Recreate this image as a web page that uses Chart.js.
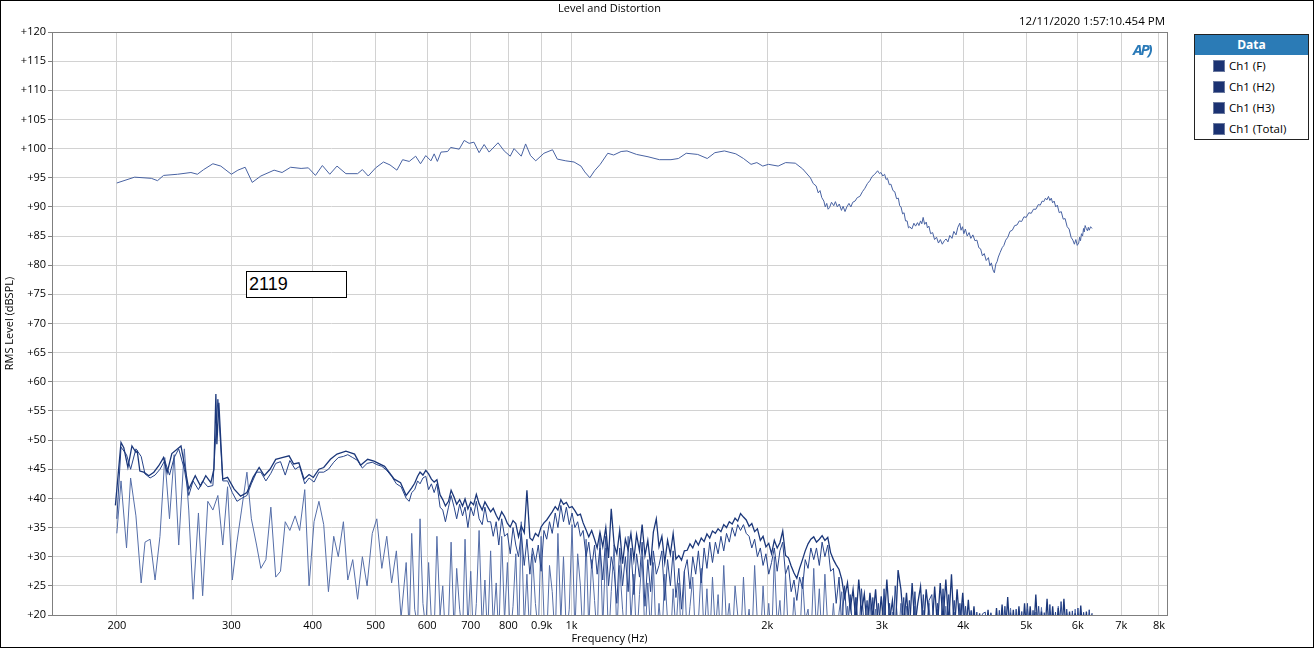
<!DOCTYPE html>
<html>
<head>
<meta charset="utf-8">
<script src="https://cdn.jsdelivr.net/npm/chart.js@4.4.1/dist/chart.umd.min.js"></script>
<style>
  body { margin: 0; background: #fff; font-family: "Open Sans", "Noto Sans", sans-serif; }
  #wrap { position: relative; width: 1314px; height: 648px; }
  #frame { position: absolute; left: 0; top: 0; width: 1312px; height: 646px; border: 1px solid #000; pointer-events: none; }
  #title { position: absolute; left: 0; width: 1219px; top: 0; text-align: center; font-size: 11px; }
  #stamp { position: absolute; right: 149px; top: 13px; font-size: 11.5px; }
  #logo { position: absolute; left: 1133px; top: 39px; font: italic bold 15px "Open Sans", sans-serif; color: #2a7ab8; letter-spacing: -2px; }
  #note { position: absolute; left: 246px; top: 271px; width: 97px; height: 25px; border: 1px solid #000; background: #fff;
          font: 18px "Liberation Sans", Arial, sans-serif; line-height: 25px; padding-left: 2px; }
  #legend { position: absolute; left: 1194px; top: 34px; width: 113px; border: 1px solid #222; background: #fff; }
  #legend .head { background: #2b7bb6; color: #fff; font-weight: bold; font-size: 12px; text-align: center; height: 20px; line-height: 20px; }
  #legend .row { height: 21px; line-height: 21px; font-size: 11.5px; padding-left: 18px; }
  #legend .sw { display: inline-block; width: 12px; height: 12px; background: #1b3272; vertical-align: -2px; margin-right: 4px; border: 1px solid #6b7aa0; box-sizing: border-box; }
  canvas { position: absolute; left: 0; top: 0; }
</style>
</head>
<body>
<div id="wrap">
  <canvas id="apChart" width="1314" height="648"></canvas>
  <div id="title">Level and Distortion</div>
  <div id="stamp">12/11/2020 1:57:10.454 PM</div>
  <div id="logo">AP)</div>
  <div id="note">2119</div>
  <div id="legend">
    <div class="head">Data</div>
    <div class="row"><span class="sw"></span>Ch1 (F)</div>
    <div class="row"><span class="sw"></span>Ch1 (H2)</div>
    <div class="row"><span class="sw"></span>Ch1 (H3)</div>
    <div class="row"><span class="sw"></span>Ch1 (Total)</div>
  </div>
  <div id="frame"></div>
</div>
<script>
// axis ticks
const xTickValues = [200, 300, 400, 500, 600, 700, 800, 900, 1000, 2000, 3000, 4000, 5000, 6000, 7000, 8000];
const xTickLabels = ["200", "300", "400", "500", "600", "700", "800", "0.9k", "1k", "2k", "3k", "4k", "5k", "6k", "7k", "8k"];
const yTickValues = [20, 25, 30, 35, 40, 45, 50, 55, 60, 65, 70, 75, 80, 85, 90, 95, 100, 105, 110, 115, 120];

// Ch1 (F) fundamental, dBSPL
const fFreqs = [
  200, 213, 226, 231, 236, 248, 260, 266, 272, 281, 289, 300, 307, 315, 323, 333, 349, 359, 370, 384,
  394, 404, 414, 425, 436, 450, 469, 477, 487, 500, 514, 526, 539, 550, 563, 576, 586, 597, 608, 615,
  622, 630, 645, 652, 672, 684, 696, 708, 721, 734, 747, 771, 788, 805, 816, 837, 850, 865, 881, 907,
  935, 951, 980, 1009, 1034, 1048, 1067, 1085, 1107, 1137, 1161, 1192, 1217, 1259, 1311, 1365, 1422, 1460, 1501, 1563,
  1617, 1661, 1718, 1789, 1838, 1888, 1927, 1968, 2008, 2078, 2134, 2208, 2267,
  2329, 2353, 2377, 2395, 2410, 2425, 2443, 2455, 2468, 2480,
  2493, 2510, 2530, 2545, 2562, 2580, 2600, 2615, 2633, 2650,
  2670, 2688, 2706, 2728, 2750, 2775, 2800, 2825, 2850, 2875,
  2897, 2925, 2955, 2975, 2990, 3010, 3029, 3045, 3060, 3080,
  3097, 3120, 3140, 3160, 3180, 3195, 3210, 3228, 3245, 3262,
  3280, 3296, 3312, 3335, 3360, 3380, 3403, 3420, 3440, 3455,
  3472, 3490, 3510, 3525, 3543, 3565, 3590, 3615, 3640, 3665,
  3690, 3715, 3742, 3765, 3790, 3815, 3845, 3870, 3900, 3925,
  3953, 3970, 3990, 4010, 4031, 4058, 4085, 4110, 4140, 4170,
  4200, 4228, 4255, 4282, 4310, 4340, 4374, 4397, 4420, 4445,
  4467, 4490, 4510, 4530, 4560, 4592, 4620, 4650, 4685, 4721,
  4760, 4800, 4840, 4879, 4920, 4960, 5000, 5046, 5090, 5130,
  5175, 5218, 5255, 5290, 5320, 5353, 5380, 5410, 5437, 5464,
  5490, 5520, 5550, 5582, 5620, 5660, 5700, 5738, 5780, 5820,
  5860, 5898, 5930, 5960, 5990, 6021, 6040, 6060, 6080, 6104,
  6125, 6140, 6160, 6184, 6210, 6230, 6250, 6280, 6312
];
const fLevels = [
  94.1, 95.1, 94.9, 94.5, 95.4, 95.6, 95.9, 95.6, 96.4, 97.4, 97.0, 95.6, 96.3, 96.8, 94.2, 95.3, 96.3, 95.9, 96.8, 96.6,
  96.7, 95.4, 97.1, 95.6, 97.0, 95.7, 95.7, 96.4, 95.3, 96.7, 97.7, 97.2, 96.3, 98.1, 97.8, 98.7, 97.4, 98.8, 97.9, 99.1,
  97.8, 99.4, 99.5, 100.2, 99.9, 101.4, 100.9, 101.1, 99.3, 100.7, 99.4, 101.0, 99.6, 98.7, 100.0, 98.7, 100.8, 98.8, 97.9, 99.2,
  99.8, 98.2, 97.9, 97.7, 97.0, 96.0, 95.0, 96.2, 97.3, 99.2, 98.9, 99.5, 99.6, 99.0, 98.6, 98.1, 98.1, 98.3, 99.2, 99.0,
  98.3, 99.3, 99.6, 99.1, 98.3, 97.3, 97.6, 97.0, 97.3, 97.0, 97.6, 97.5, 96.5,
  95.0, 94.0, 93.6, 92.4, 92.8, 91.6, 91.0, 90.0, 90.6, 89.6,
  89.9, 90.8, 90.2, 90.9, 90.0, 90.5, 89.4, 90.1, 89.2, 90.0,
  90.6, 90.0, 90.8, 91.0, 91.6, 91.8, 92.6, 93.2, 94.0, 94.5,
  95.2, 95.6, 96.2, 95.7, 95.9, 95.3, 95.6, 94.7, 94.9, 93.8,
  93.9, 92.8, 92.6, 91.4, 91.5, 90.2, 90.0, 88.8, 89.0, 87.6,
  87.6, 86.4, 86.6, 86.2, 87.2, 86.7, 87.3, 86.8, 87.6, 87.1,
  88.2, 87.0, 87.4, 86.4, 86.7, 85.4, 85.6, 84.4, 84.8, 83.8,
  84.4, 83.6, 84.2, 84.5, 84.0, 85.1, 84.6, 85.8, 85.2, 86.5,
  87.2, 86.0, 86.6, 85.4, 86.2, 85.0, 85.6, 84.6, 85.2, 84.2,
  84.3, 83.0, 82.8, 81.6, 82.0, 80.8, 81.3, 79.9, 80.4, 79.2,
  78.7, 80.2, 80.6, 81.4, 82.2, 83.0, 83.4, 84.3, 84.8, 85.8,
  86.0, 86.8, 86.9, 87.6, 87.5, 88.3, 88.2, 89.0, 88.9, 89.6,
  89.6, 90.4, 90.3, 91.0, 90.9, 91.5, 91.2, 91.8, 91.1, 91.5,
  90.7, 91.0, 90.0, 90.3, 89.0, 89.2, 87.9, 88.0, 86.6, 86.2,
  84.8, 84.3, 83.6, 84.4, 83.4, 83.8, 84.8, 84.2, 85.4, 85.0,
  86.3, 85.7, 86.8, 86.3, 85.9, 86.5, 86.0, 86.6, 86.3
];

// distortion products: low band (own grids), mid and high bands (shared grids)
const totalLowFreqs = [
  199, 203, 205, 208, 211, 214, 215, 217, 220, 224, 228, 232, 236, 239, 243, 251, 254, 258, 264, 269,
  274, 279, 282, 284, 285, 287, 291, 296, 303, 310, 317, 324, 331, 337, 344, 351, 359, 368, 374, 381,
  388, 395, 401, 409, 416, 426, 436, 450, 464, 474, 486, 497, 516, 534, 546
];
const totalLow = [
  38.8, 49.6, 48.7, 45.3, 49.0, 47.9, 48.1, 44.7, 44.5, 43.9, 44.5, 45.6, 47.0, 44.4, 47.7, 49.0, 45.9, 41.6, 43.9, 42.1,
  43.9, 42.7, 45.0, 57.9, 49.3, 56.4, 43.3, 43.6, 41.6, 40.4, 41.0, 43.6, 45.3, 43.9, 45.0, 46.7, 47.0, 47.3, 45.9, 46.1,
  43.3, 44.1, 43.6, 45.0, 45.3, 46.7, 47.6, 48.1, 47.6, 45.7, 46.7, 46.4, 45.5, 43.3, 42.7
];
const harmLowFreqs = [
  200, 203, 207, 210, 214, 218, 221, 225, 229, 233,
  237, 241, 245, 249, 254, 258, 262, 267, 271, 276,
  281, 286, 291, 296, 301, 306, 311, 317, 322, 328,
  333, 339, 345, 351, 357, 363, 369, 376, 382, 389,
  395, 402, 409, 416, 423, 431, 438, 446, 453, 461,
  469, 477, 485, 494, 502, 511, 520, 529, 538, 547
];
const h2Low = [
  36.5, 48.8, 47.5, 45.0, 48.5, 47.2, 44.2, 43.5, 44.0, 45.0,
  46.5, 44.0, 47.0, 48.5, 45.0, 40.5, 43.0, 41.5, 43.0, 42.0,
  42.2, 57.0, 43.0, 43.0, 41.0, 39.5, 40.0, 40.5, 42.5, 44.5,
  44.5, 43.0, 44.3, 46.0, 46.3, 44.0, 46.5, 45.0, 45.5, 42.5,
  43.5, 42.8, 44.5, 44.5, 45.0, 46.2, 47.0, 47.2, 47.5, 47.0,
  46.5, 45.2, 46.0, 46.2, 45.8, 45.5, 44.8, 43.8, 42.5, 42.0
];
const h3Low = [
  34.0, 43.0, 31.5, 43.5, 37.0, 25.5, 32.5, 33.0, 26.0, 33.5,
  47.0, 36.5, 47.5, 32.0, 48.5, 38.0, 22.7, 37.5, 23.3, 39.5,
  38.0, 40.5, 32.0, 42.0, 26.0, 32.5, 38.0, 44.5, 36.5, 32.0,
  28.0, 29.5, 38.5, 26.5, 27.5, 36.0, 34.5, 37.0, 34.5, 41.5,
  25.0, 36.0, 39.5, 35.5, 24.0, 33.5, 30.0, 36.0, 26.0, 29.5,
  22.7, 30.0, 25.0, 34.0, 36.5, 28.0, 33.5, 25.5, 31.0, 19.5
];

const midFreqs = [
  557, 563, 568, 574, 580, 585, 591, 597, 603, 609,
  615, 621, 628, 634, 640, 647, 653, 660, 666, 673,
  680, 686, 693, 700, 707, 714, 721, 729, 736, 743,
  751, 758, 766, 773, 781, 789, 797, 805, 813, 821,
  829, 837, 846, 854, 863, 871, 880, 889, 898, 907,
  916, 925, 934, 944, 953, 963, 972, 982, 992, 1002,
  1012, 1022, 1032, 1042, 1053, 1063, 1074, 1085, 1095, 1106,
  1117, 1129, 1140, 1151, 1163, 1174, 1186, 1198, 1210, 1222,
  1234, 1247, 1259, 1272, 1284, 1297, 1310, 1323, 1336, 1350,
  1363, 1377, 1391, 1405, 1419, 1433, 1447, 1462, 1476, 1491,
  1506, 1521, 1536, 1552, 1567, 1583, 1599, 1615, 1631, 1647,
  1664, 1680, 1697, 1714, 1731, 1748, 1766, 1784, 1801, 1819,
  1838, 1856, 1875, 1893, 1912, 1931, 1951, 1970, 1990, 2010,
  2030, 2050, 2071, 2091, 2112, 2133, 2155, 2176, 2198, 2220,
  2242, 2265, 2287, 2310, 2333, 2357, 2380, 2404, 2428, 2452,
  2477, 2502, 2527, 2552, 2578, 2603, 2629, 2656, 2682, 2709,
  2736, 2764, 2791, 2819, 2847, 2876, 2905, 2934, 2963, 2993,
  3023, 3053, 3083, 3114, 3145, 3177, 3209, 3241, 3273, 3306,
  3339, 3372, 3406, 3440, 3474, 3509, 3544, 3580, 3616, 3652,
  3688, 3725, 3762, 3800, 3838, 3876, 3915, 3954, 3994, 4034,
  4074, 4115, 4156, 4198, 4240, 4282
];
const totalMid = [
  40.5, 41.2, 41.8, 42.6, 43.8, 44.5, 44.0, 44.8, 44.2, 43.3,
  42.8, 43.2, 40.6, 39.8, 38.7, 39.5, 41.4, 40.2, 39.0, 39.8,
  38.7, 39.9, 38.2, 39.4, 38.9, 40.7, 39.1, 38.0, 39.4, 38.6,
  37.7, 38.3, 37.1, 36.3, 37.7, 36.9, 35.7, 35.1, 36.2, 35.7,
  33.4, 35.3, 34.1, 41.4, 33.2, 32.8, 34.0, 33.5, 35.1, 35.8,
  36.3, 37.0, 37.7, 38.6, 38.0, 39.8, 39.0, 39.3, 38.4, 38.6,
  37.9, 37.1, 37.3, 35.8, 34.6, 33.4, 34.5, 33.0, 31.5, 34.2,
  31.7, 35.0, 29.8, 38.2, 32.0, 30.5, 34.5, 28.8, 33.0, 31.2,
  34.0, 29.5, 33.8, 31.0, 35.5, 30.2, 32.8, 28.5, 34.2, 36.5,
  31.7, 33.5, 29.0, 32.8, 30.4, 34.0, 29.6, 30.2, 29.4, 31.0,
  31.1, 32.2, 31.5, 32.8, 32.0, 33.2, 32.6, 33.9, 33.2, 34.4,
  34.0, 34.8, 34.3, 35.5, 35.0, 36.0, 35.6, 36.6, 36.1, 37.4,
  36.8, 36.3, 35.2, 35.7, 34.3, 34.8, 32.8, 33.5, 31.7, 32.3,
  30.5, 32.8, 31.5, 32.4, 34.4, 30.2, 29.8, 28.4, 27.2, 26.3,
  28.0, 29.5, 31.0, 32.2, 33.0, 33.4, 32.5, 33.0, 33.6, 32.8,
  33.3, 30.7, 29.5, 28.6, 27.8, 26.1, 23.0, 25.5, 21.0, 24.4,
  19.0, 26.1, 20.5, 23.6, 18.0, 23.8, 19.5, 24.4, 17.5, 23.2,
  18.0, 26.1, 19.0, 22.5, 17.0, 27.7, 24.4, 18.5, 23.8, 17.0,
  25.5, 18.0, 22.0, 24.9, 17.0, 24.4, 20.0, 16.5, 24.9, 18.0,
  25.5, 19.0, 26.1, 18.5, 27.0, 17.0, 24.4, 18.0, 23.8, 16.5,
  22.6, 16.0, 21.5, 15.0, 20.3, 15.0
];
const h2Mid = [
  40.0, 39.5, 41.0, 41.5, 43.0, 42.5, 43.5, 43.8, 41.5, 42.5,
  41.0, 42.5, 38.5, 38.0, 36.0, 38.5, 40.5, 38.5, 36.5, 39.0,
  37.0, 38.5, 35.0, 38.5, 37.0, 39.5, 36.5, 35.5, 38.5, 36.0,
  36.0, 33.5, 36.0, 32.0, 36.5, 33.5, 34.0, 30.5, 35.0, 32.0,
  30.0, 34.0, 28.5, 33.0, 27.0, 31.5, 29.0, 32.0, 27.5, 34.5,
  33.0, 36.0, 34.0, 37.5, 35.0, 38.8, 36.0, 38.5, 35.5, 37.5,
  35.0, 36.0, 33.5, 34.5, 30.0, 32.5, 28.0, 32.0, 27.0, 31.5,
  26.0, 33.5, 25.0, 30.0, 27.5, 22.0, 31.5, 25.0, 30.0, 24.0,
  31.5, 23.5, 30.5, 26.5, 32.5, 21.5, 29.5, 24.0, 31.0, 27.0,
  28.5, 31.0, 22.5, 29.5, 25.0, 31.0, 23.0, 28.0, 21.0, 27.5,
  29.5, 24.5, 30.0, 27.0, 31.0, 25.5, 31.5, 28.0, 32.5, 29.0,
  32.5, 30.5, 33.5, 31.0, 34.0, 32.5, 35.0, 33.5, 35.5, 34.5,
  35.5, 34.0, 33.5, 31.5, 33.0, 30.0, 31.5, 28.5, 30.5, 27.0,
  29.0, 31.5, 27.5, 31.0, 32.5, 27.0, 28.5, 24.0, 26.0, 22.5,
  26.5, 24.5, 29.5, 28.0, 31.5, 29.5, 31.5, 28.5, 32.5, 30.0,
  32.0, 27.5, 28.0, 22.0, 26.5, 18.0, 25.0, 17.0, 23.5, 16.0,
  23.0, 16.0, 24.5, 17.5, 22.5, 15.0, 23.0, 16.5, 22.0, 15.0,
  24.5, 16.0, 22.0, 15.0, 25.0, 17.0, 16.0, 23.0, 15.0, 22.5,
  16.0, 24.0, 15.0, 16.0, 23.5, 15.0, 22.5, 23.5, 15.0, 22.0,
  16.0, 24.5, 15.0, 23.5, 16.0, 22.5, 15.0, 22.0, 15.0, 21.5,
  15.0, 20.8, 15.0, 20.5, 15.0, 20.2
];
const h3Mid = [
  29.0, 17.0, 34.0, 21.0, 18.0, 36.5, 22.0, 17.5, 29.0, 19.0,
  17.0, 33.5, 20.0, 25.0, 16.0, 19.0, 32.5, 17.0, 28.0, 21.0,
  16.5, 33.0, 18.0, 27.5, 15.0, 22.0, 34.5, 17.5, 26.0, 16.0,
  31.0, 18.0, 25.5, 16.0, 33.5, 19.0, 29.0, 16.0, 21.5, 30.5,
  16.0, 36.0, 18.0, 27.0, 15.5, 30.5, 22.0, 17.0, 33.5, 20.0,
  16.0, 28.5, 24.0, 15.5, 34.0, 19.0, 30.0, 16.5, 21.0, 35.5,
  17.0, 30.5, 25.0, 15.0, 33.0, 17.5, 29.5, 22.5, 16.0, 34.0,
  18.0, 31.5, 15.0, 24.0, 32.0, 16.5, 28.5, 21.0, 15.0, 33.5,
  19.0, 27.0, 15.0, 23.5, 30.0, 16.0, 25.5, 17.0, 29.0, 15.0,
  22.0, 16.0, 27.0, 19.0, 15.0, 24.5, 17.0, 25.5, 15.0, 27.5,
  16.0, 21.5, 26.5, 15.0, 19.0, 28.0, 16.0, 24.5, 15.0, 26.5,
  17.0, 23.5, 15.0, 28.5, 18.0, 22.0, 15.0, 25.0, 20.0, 15.0,
  26.5, 17.0, 21.0, 15.0, 28.5, 18.5, 15.0, 25.0, 16.0, 22.0,
  15.0, 30.0, 18.0, 22.5, 15.0, 27.0, 16.5, 15.0, 23.0, 17.0,
  15.0, 26.5, 19.0, 21.0, 15.0, 28.0, 17.0, 24.5, 15.0, 27.0,
  18.0, 15.0, 22.0, 15.0, 20.5, 24.0, 15.0, 21.5, 16.0, 15.0,
  23.0, 15.0, 20.5, 15.0, 15.0, 22.5, 15.0, 21.0, 15.0, 15.0,
  23.0, 15.0, 16.0, 20.5, 15.0, 15.0, 22.0, 15.0, 21.5, 15.0,
  15.0, 21.5, 15.0, 15.0, 20.8, 15.0, 22.0, 15.0, 15.0, 21.0,
  15.0, 15.0, 21.5, 15.0, 15.0, 20.5, 15.0, 15.0, 22.0, 15.0,
  15.0, 20.6, 15.0, 15.0, 15.0, 15.0
];

const highFreqs = [
  4325, 4368, 4412, 4456, 4501, 4546, 4591, 4637, 4683, 4730,
  4777, 4825, 4873, 4922, 4971, 5021, 5071, 5122, 5173, 5225,
  5277, 5330, 5383, 5437, 5491, 5546, 5601, 5657, 5714, 5771,
  5829, 5887, 5946, 6005, 6065, 6126, 6187, 6249, 6312
];
const totalHigh = [
  15.0, 20.9, 15.0, 15.0, 21.2, 15.0, 21.8, 15.0, 23.1, 15.0,
  20.9, 15.0, 21.5, 15.0, 22.0, 15.0, 21.5, 15.0, 23.5, 15.0,
  20.6, 15.0, 22.8, 15.0, 21.5, 15.0, 21.2, 15.0, 22.8, 15.0,
  20.6, 15.0, 20.3, 15.0, 21.6, 15.0, 20.6, 15.0, 20.3
];
const h2High = [
  20.5, 15.0, 20.3, 15.0, 15.0, 20.8, 15.0, 21.5, 15.0, 20.4,
  15.0, 21.0, 15.0, 20.6, 15.0, 22.0, 15.0, 20.8, 15.0, 21.5,
  15.0, 20.4, 15.0, 21.8, 15.0, 20.5, 15.0, 22.3, 15.0, 21.0,
  15.0, 20.7, 15.0, 21.2, 15.0, 20.4, 15.0, 20.9, 15.0
];
const h3High = [
  15.0, 15.0, 20.4, 15.0, 15.0, 15.0, 20.8, 15.0, 15.0, 21.2,
  15.0, 15.0, 20.6, 15.0, 15.0, 21.0, 15.0, 15.0, 20.5, 15.0,
  21.3, 15.0, 15.0, 20.6, 15.0, 15.0, 21.5, 15.0, 15.0, 20.4,
  15.0, 15.0, 21.0, 15.0, 15.0, 20.5, 15.0, 15.0, 15.0
];

function pairs(xs, ys) {
  const n = Math.min(xs.length, ys.length);
  const out = [];
  for (let i = 0; i < n; i++) out.push({ x: xs[i], y: ys[i] });
  return out;
}

const totalData = pairs(totalLowFreqs, totalLow).concat(pairs(midFreqs, totalMid), pairs(highFreqs, totalHigh));
const h2Data = pairs(harmLowFreqs, h2Low).concat(pairs(midFreqs, h2Mid), pairs(highFreqs, h2High));
const h3Data = pairs(harmLowFreqs, h3Low).concat(pairs(midFreqs, h3Mid), pairs(highFreqs, h3High));

const axisFont = { family: "'Open Sans', 'Noto Sans', sans-serif", size: 11 };

// top and right frame of the plot area
const plotFrame = {
  id: "plotFrame",
  afterDraw(chart) {
    const a = chart.chartArea;
    const c = chart.ctx;
    c.save();
    c.strokeStyle = "#7f7f7f";
    c.lineWidth = 1;
    c.strokeRect(Math.round(a.left) + 0.5, Math.round(a.top) + 0.5, Math.round(a.right - a.left), Math.round(a.bottom - a.top));
    c.restore();
  }
};

const ctx = document.getElementById("apChart");
const chart = new Chart(ctx, {
  type: "line",
  data: {
    datasets: [
      { label: "Ch1 (F)", data: pairs(fFreqs, fLevels), borderColor: "#4862a2", borderWidth: 1, pointRadius: 0, parsing: false },
      { label: "Ch1 (Total)", data: totalData, borderColor: "#1b377a", borderWidth: 1.3, pointRadius: 0, parsing: false },
      { label: "Ch1 (H2)", data: h2Data, borderColor: "#27448a", borderWidth: 1, pointRadius: 0, parsing: false },
      { label: "Ch1 (H3)", data: h3Data, borderColor: "#556ea8", borderWidth: 1, pointRadius: 0, parsing: false }
    ]
  },
  options: {
    responsive: false,
    animation: false,
    events: [],
    layout: { padding: { left: 0, right: 147, top: 32, bottom: 0 } },
    scales: {
      x: {
        type: "logarithmic",
        min: 159,
        max: 8230,
        afterBuildTicks: s => { s.ticks = xTickValues.map(v => ({ value: v })); },
        afterFit: s => { s.height = 33; },
        ticks: {
          autoSkip: false, maxRotation: 0, padding: 4, color: "#000", font: axisFont,
          callback: (v, i) => xTickLabels[i]
        },
        grid: { color: "#d2d2d2", drawTicks: false },
        border: { color: "#7f7f7f" },
        title: { display: true, text: "Frequency (Hz)", color: "#000", font: axisFont, padding: { top: 0, bottom: 3 } }
      },
      y: {
        min: 20,
        max: 120,
        afterBuildTicks: s => { s.ticks = yTickValues.map(v => ({ value: v })); },
        afterFit: s => { s.width = 52; },
        ticks: { padding: 2, color: "#000", font: axisFont, callback: v => "+" + v },
        grid: { color: "#d2d2d2", tickLength: 4, tickColor: "#7f7f7f" },
        border: { color: "#7f7f7f" },
        title: { display: true, text: "RMS Level (dBSPL)", color: "#000", font: axisFont, padding: { top: 3, bottom: 0 } }
      }
    },
    plugins: {
      legend: { display: false },
      tooltip: { enabled: false }
    }
  },
  plugins: [plotFrame]
});
</script>
</body>
</html>
